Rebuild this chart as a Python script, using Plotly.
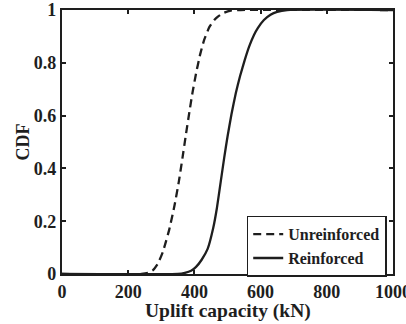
import plotly.graph_objects as go

# Unreinforced (dashed) CDF
unreinf_x = [0, 240, 260, 275, 290, 305, 324, 340, 353, 364, 374, 385, 394, 405, 417, 429, 445, 460, 472, 490, 510, 540, 1000]
unreinf_cdf = [0, 0, 0.004, 0.015, 0.04, 0.085, 0.168, 0.26, 0.35, 0.44, 0.525, 0.615, 0.685, 0.76, 0.83, 0.885, 0.935, 0.962, 0.976, 0.99, 0.998, 1, 1]

# Reinforced (solid) CDF
reinf_x = [0, 350, 371, 390, 405, 422, 440, 457, 468, 479, 490, 500, 512, 525, 538, 552, 565, 580, 592, 610, 630, 650, 680, 1000]
reinf_cdf = [0, 0, 0.004, 0.012, 0.027, 0.054, 0.095, 0.175, 0.25, 0.345, 0.44, 0.52, 0.605, 0.685, 0.75, 0.81, 0.86, 0.905, 0.932, 0.962, 0.982, 0.993, 1.0, 1]

x_ticks = [0, 200, 400, 600, 800, 1000]
y_ticks = [0, 0.2, 0.4, 0.6, 0.8, 1]
y_tick_text = ["0", "0.2", "0.4", "0.6", "0.8", "1"]
x_title = "Uplift capacity (kN)"
y_title = "CDF"

FONT = "Liberation Serif"
INK = "#1e1e1e"

fig = go.Figure()
fig.add_trace(go.Scatter(x=unreinf_x, y=unreinf_cdf, mode="lines", name="<b>Unreinforced</b>",
                         line=dict(color=INK, width=2.3, dash="8px,5px", shape="spline", smoothing=0.4)))
fig.add_trace(go.Scatter(x=reinf_x, y=reinf_cdf, mode="lines", name="<b>Reinforced</b>",
                         line=dict(color=INK, width=2.3, shape="spline", smoothing=0.4)))

axis_common = dict(showline=True, linecolor=INK, linewidth=2.2, mirror="ticks",
                   ticks="inside", ticklen=4, tickwidth=1.5, tickcolor=INK,
                   showgrid=False, zeroline=False, ticklabeloverflow="allow",
                   tickfont=dict(family=FONT, size=18, color=INK))

fig.update_layout(
    width=406, height=324,
    margin=dict(l=62, r=13, t=10, b=50),
    paper_bgcolor="white", plot_bgcolor="white",
    font=dict(family=FONT, color=INK),
    xaxis=dict(range=[0, 1000], tickvals=x_ticks, ticktext=["<b>%d</b>" % v for v in x_ticks],
               automargin=False, **axis_common),
    yaxis=dict(range=[0, 1], tickvals=y_ticks, ticktext=["<b>%s</b>" % t for t in y_tick_text],
               automargin=False, **axis_common),
    legend=dict(x=0.981, y=0.105, xanchor="right", yanchor="middle",
                bordercolor=INK, borderwidth=1.5, bgcolor="white",
                font=dict(family=FONT, size=16, color=INK),
                tracegroupgap=0, itemwidth=30),
    showlegend=True,
    annotations=[
        dict(text="<b>%s</b>" % x_title, xref="paper", yref="paper", x=0.5, y=-0.142,
             xanchor="center", yanchor="middle", showarrow=False,
             font=dict(family=FONT, size=19.5, color=INK)),
        dict(text="<b>%s</b>" % y_title, xref="paper", yref="paper", x=-0.119, y=0.5,
             xanchor="center", yanchor="middle", showarrow=False, textangle=-90,
             font=dict(family=FONT, size=18, color=INK)),
    ],
)

fig.write_html("out.html", config={"displayModeBar": False},
               post_script="document.body.style.margin='0';")
